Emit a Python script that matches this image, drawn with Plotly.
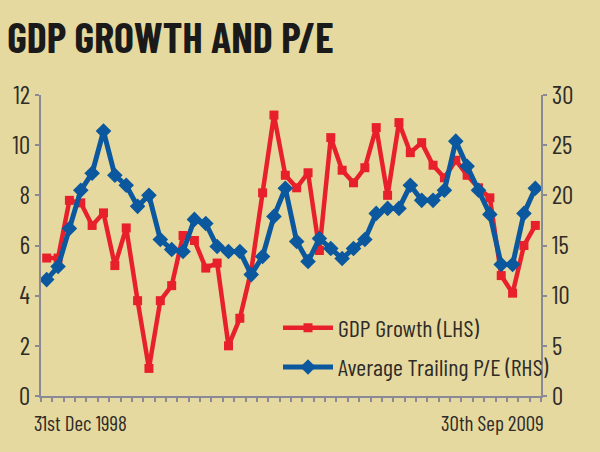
import plotly.graph_objects as go

quarters = [
    "Dec-98", "Mar-99", "Jun-99", "Sep-99", "Dec-99", "Mar-00", "Jun-00", "Sep-00",
    "Dec-00", "Mar-01", "Jun-01", "Sep-01", "Dec-01", "Mar-02", "Jun-02", "Sep-02",
    "Dec-02", "Mar-03", "Jun-03", "Sep-03", "Dec-03", "Mar-04", "Jun-04", "Sep-04",
    "Dec-04", "Mar-05", "Jun-05", "Sep-05", "Dec-05", "Mar-06", "Jun-06", "Sep-06",
    "Dec-06", "Mar-07", "Jun-07", "Sep-07", "Dec-07", "Mar-08", "Jun-08", "Sep-08",
    "Dec-08", "Mar-09", "Jun-09", "Sep-09",
]
gdp_growth = [
    5.5, 5.5, 7.8, 7.7, 6.8, 7.3, 5.2, 6.7, 3.8, 1.1, 3.8, 4.4, 6.4, 6.2, 5.1, 5.3,
    2.0, 3.1, 5.0, 8.1, 11.2, 8.8, 8.3, 8.9, 5.8, 10.3, 9.0, 8.5, 9.1, 10.7, 8.0, 10.9,
    9.7, 10.1, 9.2, 8.7, 9.4, 8.8, 8.3, 7.9, 4.8, 4.1, 6.0, 6.8,
]
trailing_pe = [
    11.6, 12.9, 16.7, 20.5, 22.2, 26.4, 22.0, 21.0, 18.9, 20.0, 15.6, 14.6, 14.4, 17.6, 17.2, 14.9,
    14.4, 14.4, 12.1, 13.9, 17.9, 20.7, 15.4, 13.4, 15.7, 14.7, 13.7, 14.7, 15.6, 18.2, 18.7, 18.7,
    21.0, 19.5, 19.5, 20.5, 25.4, 22.9, 20.5, 18.1, 13.1, 13.1, 18.2, 20.7,
]
left_ticks = [0, 2, 4, 6, 8, 10, 12]
right_ticks = [0, 5, 10, 15, 20, 25, 30]
start_label = "31st Dec 1998"
end_label = "30th Sep 2009"

xpos = list(range(len(quarters)))
bounds = [k - 0.5 for k in range(len(quarters) + 1)]
xr = [bounds[0], bounds[-1]]

FONT = "Barlow Condensed, Archivo Narrow, Liberation Sans Narrow, DejaVu Sans Condensed, sans-serif"
AX = "#8a8a96"
TXT = "#2e2c28"
BG = "#e6d9a0"

fig = go.Figure()
fig.add_trace(go.Scatter(
    x=xpos, y=gdp_growth, name="GDP Growth (LHS)", mode="lines+markers",
    line=dict(color="#e8202b", width=4.5),
    marker=dict(symbol="square", size=9, color="#e8202b"),
    text=quarters, hoverinfo="text+y", legendgroup="a",
))
fig.add_trace(go.Scatter(
    x=xpos, y=trailing_pe, name="Average Trailing P/E (RHS)", mode="lines+markers",
    yaxis="y2",
    line=dict(color="#0b589f", width=5),
    marker=dict(symbol="diamond", size=12, color="#0b589f"),
    text=quarters, hoverinfo="text+y", legendgroup="b",
))

tickstyle = dict(tickcolor=AX, tickwidth=1.5, ticklen=4, showgrid=False, zeroline=False)

fig.update_layout(
    width=600, height=452,
    margin=dict(l=35, r=59, t=95, b=56),
    paper_bgcolor=BG, plot_bgcolor=BG,
    font=dict(family=FONT, color=TXT),
    title=dict(text="<b>GDP GROWTH AND P/E</b>", x=0.012, xanchor="left",
               y=1 - 38 / 452, yanchor="middle", yref="container",
               font=dict(family=FONT, size=42, color="#1a1a1a")),
    xaxis=dict(range=xr, tickvals=bounds, ticks="outside", showticklabels=False,
               showline=True, linecolor=AX, linewidth=2, **tickstyle),
    xaxis2=dict(range=xr, tickvals=bounds, ticks="inside", showticklabels=False,
                overlaying="x", anchor="y", showline=False, **tickstyle),
    yaxis=dict(range=[0, 12], tickvals=left_ticks, ticks="outside", showline=True,
               linecolor=AX, linewidth=2, tickfont=dict(size=25, color=TXT), **tickstyle),
    yaxis2=dict(range=[0, 30], tickvals=right_ticks, ticks="outside", side="right",
                overlaying="y", anchor="x", showline=True, linecolor=AX, linewidth=2,
                tickfont=dict(size=25, color=TXT), **tickstyle),
    yaxis3=dict(range=[0, 12], tickvals=left_ticks, ticks="inside", side="left",
                overlaying="y", anchor="x", showticklabels=False, showline=False, **tickstyle),
    yaxis4=dict(range=[0, 30], tickvals=right_ticks, ticks="inside", side="right",
                overlaying="y", anchor="x", showticklabels=False, showline=False, **tickstyle),
    showlegend=True,
    legend=dict(x=0.474, y=0.30, xanchor="left", yanchor="top", bgcolor="rgba(0,0,0,0)",
                font=dict(size=24, color=TXT), tracegroupgap=5, itemwidth=50),
    annotations=[
        dict(text=start_label, xref="paper", yref="paper", x=-0.018, y=-0.088,
             xanchor="left", yanchor="middle", showarrow=False, font=dict(size=21, color=TXT)),
        dict(text=end_label, xref="paper", yref="paper", x=1.01, y=-0.088,
             xanchor="right", yanchor="middle", showarrow=False, font=dict(size=21, color=TXT)),
    ],
)

fig.write_html("out.html")
